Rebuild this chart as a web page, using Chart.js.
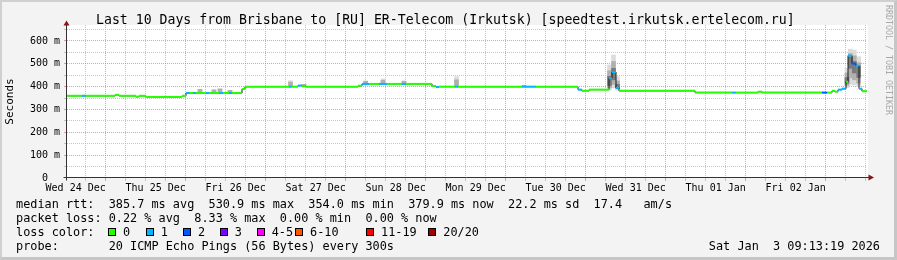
<!DOCTYPE html>
<html><head><meta charset="utf-8">
<script src="https://cdn.jsdelivr.net/npm/chart.js@4"></script>
<style>
html,body{margin:0;padding:0;}
body{width:897px;height:260px;overflow:hidden;background:#f3f3f3;}
#wrap{position:relative;width:897px;height:260px;}
canvas{position:absolute;left:0;top:0;}
.t{position:absolute;font-family:'DejaVu Sans Mono',monospace;white-space:pre;color:#000;}
.ln{font-size:11.85px;line-height:14px;left:16px;}
#title{font-size:13.2px;line-height:16px;left:96px;top:11.5px;}
#wm{left:884px;top:5px;font-size:8.3px;line-height:9px;color:#a8a8a8;writing-mode:vertical-rl;}
.box{position:absolute;width:8px;height:8px;box-sizing:border-box;border:1px solid #000;}
#frame{position:absolute;left:0;top:0;width:897px;height:260px;box-sizing:border-box;border-style:solid;border-color:#d0d0d0 #c6c6c6 #c6c6c6 #d0d0d0;border-width:2px 3px 3px 2px;pointer-events:none;}
</style></head>
<body><div id="wrap">
<canvas id="c" width="897" height="260"></canvas>
<div id="title" class="t"></div>
<div id="wm" class="t">RRDTOOL / TOBI OETIKER</div>
<div id="legend"></div>
<div id="frame"></div>
</div>
<script>
// ---- data ----
const titleText = 'Last 10 Days from Brisbane to [RU] ER-Telecom (Irkutsk) [speedtest.irkutsk.ertelecom.ru]';
// hours since Wed 24 Dec 00:00
const rangeStart = 9.4;
const rangeEnd = 249.4;
const dayLabels = ['Wed 24 Dec','Thu 25 Dec','Fri 26 Dec','Sat 27 Dec','Sun 28 Dec','Mon 29 Dec','Tue 30 Dec','Wed 31 Dec','Thu 01 Jan','Fri 02 Jan'];
const yTickValues = [0,50,100,150,200,250,300,350,400,450,500,550,600,650];
const xTickHours = [12,18,24,30,36,42,48,54,60,66,72,78,84,90,96,102,108,114,120,126,132,138,144,150,156,162,168,174,180,186,192,198,204,210,216,222,228,234,240,246];

// median rtt steps (start hour, ms, loss level index)
const times = [9.4,13.9,15.1,23.8,25.0,30.1,31.0,33.1,43.9,45.1,46.3,47.2,48.1,51.1,52.0,55.0,56.2,58.0,58.9,61.9,62.8,76.0,76.9,78.7,79.9,81.1,96.7,97.9,100.0,103.0,105.4,109.9,111.1,118.9,120.1,121.0,125.8,126.7,145.9,150.1,162.7,163.9,166.0,172.0,172.9,174.1,175.0,197.8,208.9,210.1,216.7,217.9,235.9,237.4,238.9,239.8,240.7,241.9,243.1,243.7,244.9,246.1,247.0,247.9];
const medians = [360,360,360,364,360,356,360,355,360,372,372,372,372,372,372,372,372,372,372,390,400,400,400,405,402,400,404,412,412,412,412,412,412,403,398,400,400,400,400,400,387,382,387,437,464,395,382,374,374,374,378,374,374,374,382,378,387,391,422,536,501,492,391,380];
const loss = [0,1,0,0,0,0,0,0,0,1,0,1,0,1,0,1,0,1,0,0,0,1,0,1,0,0,0,1,0,1,0,1,0,0,1,0,1,0,1,0,1,0,0,1,1,1,0,0,1,0,0,0,2,0,0,0,1,1,0,1,2,1,1,0];

// smoke (ping spread) columns
const smokeTimes = [49.3,53.5,55.3,58.3,76.45,80.5,99.0,104.2,110.5,126.25,146.5,172.15,173.35,174.55,243.4,244.4,245.6,246.9];
const smokeLow  = [376,376,378,372,400,402,412,412,412,400,400,385,395,385,395,410,407,400];
const smokeHigh = [388,386,390,384,426,410,424,434,424,444,406,495,539,444,480,564,560,531];
const smokeMidLow  = [376,376,378,372,400,402,412,412,412,400,400,395,410,392,405,440,430,415];
const smokeMidHigh = [388,386,390,384,420,410,424,428,424,430,406,470,510,425,460,545,535,505];
const smokeDarkLow  = [null,null,null,null,null,null,null,null,null,null,null,405,430,395,415,480,460,440];
const smokeDarkHigh = [null,null,null,null,null,null,null,null,null,null,null,445,480,410,440,530,510,490];

const lossLabels = ['0','1','2','3','4-5','6-10','11-19','20/20'];
const lossColors = ['#26ff00','#00b8ff','#0059ff','#7e00ff','#ff00ff','#ff5500','#ff0000','#a10000'];

const statLines = [
  'median rtt:  385.7 ms avg  530.9 ms max  354.0 ms min  379.9 ms now  22.2 ms sd  17.4   am/s',
  'packet loss: 0.22 % avg  8.33 % max  0.00 % min  0.00 % now',
  'loss color:',
  'probe:       20 ICMP Echo Pings (56 Bytes) every 300s'
];
const dateText = 'Sat Jan  3 09:13:19 2026';

// ---- text ----
document.getElementById('title').textContent = titleText;
const lg = document.getElementById('legend');
const lineTops = [197.2, 211.2, 225.2, 239.2];
statLines.forEach((s,i)=>{
  const d = document.createElement('div'); d.className='t ln'; d.style.top=lineTops[i]+'px'; d.textContent=s; lg.appendChild(d);
});
const dd = document.createElement('div'); dd.className='t ln'; dd.style.left='auto'; dd.style.right='17px'; dd.style.top=lineTops[3]+'px'; dd.textContent=dateText; lg.appendChild(dd);
const boxX = [108,145.7,183,219.7,256.7,295,366,428.3];
lossLabels.forEach((l,i)=>{
  const b = document.createElement('div'); b.className='box'; b.style.left=boxX[i]+'px'; b.style.top='228px'; b.style.background=lossColors[i]; lg.appendChild(b);
  const t = document.createElement('div'); t.className='t ln'; t.style.left=(boxX[i]+15)+'px'; t.style.top=lineTops[2]+'px'; t.textContent=l; lg.appendChild(t);
});

// ---- chart ----
const coloredData = [];
for (let i=0;i<times.length;i++){
  const t1 = i+1<times.length ? times[i+1] : rangeEnd;
  coloredData.push({x:times[i],y:medians[i]},{x:t1,y:medians[i]},{x:t1,y:null});
}
const stepData = times.map((t,i)=>({x:t,y:medians[i]}));
stepData.push({x:rangeEnd,y:medians[medians.length-1]});
const bars = (lo,hi)=>smokeTimes.map((t,i)=>lo[i]==null?null:({x:t,y:[lo[i],hi[i]]})).filter(v=>v);

const majorGrid = 'rgba(235,120,120,0.75)';
const minorGrid = 'rgba(180,180,180,0.75)';
const monoFont = {family:"'DejaVu Sans Mono'", size:10};

const decor = {
  id:'decor',
  beforeDraw(chart){
    const {ctx, chartArea:a} = chart;
    ctx.save(); ctx.fillStyle='#ffffff';
    ctx.fillRect(a.left, a.top, a.right-a.left+1, a.bottom-a.top);
    ctx.restore();
  },
  afterDraw(chart){
    const {ctx, chartArea:a} = chart;
    ctx.save();
    ctx.strokeStyle='#333'; ctx.lineWidth=1;
    const y0 = Math.round(a.bottom)-0.5, x0 = Math.round(a.left)-0.5;
    ctx.beginPath();
    ctx.moveTo(x0-3, y0); ctx.lineTo(a.right+3, y0);
    ctx.moveTo(x0, y0+3); ctx.lineTo(x0, a.top-3);
    ctx.stroke();
    ctx.fillStyle='#8a1414';
    ctx.beginPath(); ctx.moveTo(x0-3, a.top+0.5); ctx.lineTo(x0+3, a.top+0.5); ctx.lineTo(x0, a.top-4.5); ctx.closePath(); ctx.fill();
    ctx.beginPath(); ctx.moveTo(a.right+1.5, y0-3); ctx.lineTo(a.right+1.5, y0+3); ctx.lineTo(a.right+7, y0); ctx.closePath(); ctx.fill();
    ctx.restore();
  }
};

new Chart(document.getElementById('c'), {
  type:'line',
  data:{datasets:[
    {type:'line', data:coloredData, borderWidth:2, borderColor:lossColors[0], borderCapStyle:'butt',
     segment:{borderColor: c=>lossColors[loss[Math.floor(c.p0DataIndex/3)]]},
     pointRadius:0, spanGaps:false, order:0},
    {type:'line', data:stepData, stepped:true, borderWidth:1, borderColor:'#1a1a1a', pointRadius:0, order:1},
    {type:'bar', data:bars(smokeDarkLow,smokeDarkHigh), backgroundColor:'#7a7a7a', barThickness:4, grouped:false, borderWidth:0, order:2},
    {type:'bar', data:bars(smokeMidLow,smokeMidHigh), backgroundColor:'#b0b0b0', barThickness:4, grouped:false, borderWidth:0, order:3},
    {type:'bar', data:bars(smokeLow,smokeHigh), backgroundColor:'#dcdcdc', barThickness:4, grouped:false, borderWidth:0, order:4}
  ]},
  options:{
    responsive:false, animation:false, devicePixelRatio:1,
    layout:{padding:{left:0, top:25, right:30, bottom:0}},
    plugins:{legend:{display:false}, tooltip:{enabled:false}, title:{display:false}},
    scales:{
      x:{type:'linear', min:rangeStart, max:rangeEnd, offset:false,
        afterBuildTicks: s=>{ s.ticks = xTickHours.map(v=>({value:v})); },
        afterFit: s=>{ s.height = 82; },
        grid:{color: c=> (c.tick && c.tick.value%24===0) ? majorGrid : minorGrid, lineWidth:1, tickLength:3,
              tickColor: c=> (c.tick && c.tick.value%24===0) ? majorGrid : minorGrid},
        border:{display:false, dash:[1,1]},
        ticks:{autoSkip:false, maxRotation:0, minRotation:0, padding:1, font:monoFont, color:'#000',
               callback: v => (v%24===12) ? dayLabels[(v-12)/24] : ''}
      },
      y:{type:'linear', min:0, max:670,
        afterBuildTicks: s=>{ s.ticks = yTickValues.map(v=>({value:v})); },
        afterFit: s=>{ s.width = 67; },
        grid:{color: c=> !c.tick || c.tick.value===0 ? 'rgba(0,0,0,0)' : (c.tick.value%100===0 ? majorGrid : minorGrid), lineWidth:1, tickLength:3,
              tickColor: c=> !c.tick || c.tick.value===0 ? 'rgba(0,0,0,0)' : (c.tick.value%100===0 ? majorGrid : minorGrid)},
        border:{display:false, dash:[1,1]},
        ticks:{autoSkip:false, padding:4, font:monoFont, color:'#000',
               callback: v => v%100!==0 ? '' : (v===0 ? '0  ' : v+' m')},
        title:{display:true, text:'Seconds', font:{family:"'DejaVu Sans Mono'", size:11}, color:'#000', padding:{top:4,bottom:0}}
      }
    }
  },
  plugins:[decor]
});
</script>
</body></html>
